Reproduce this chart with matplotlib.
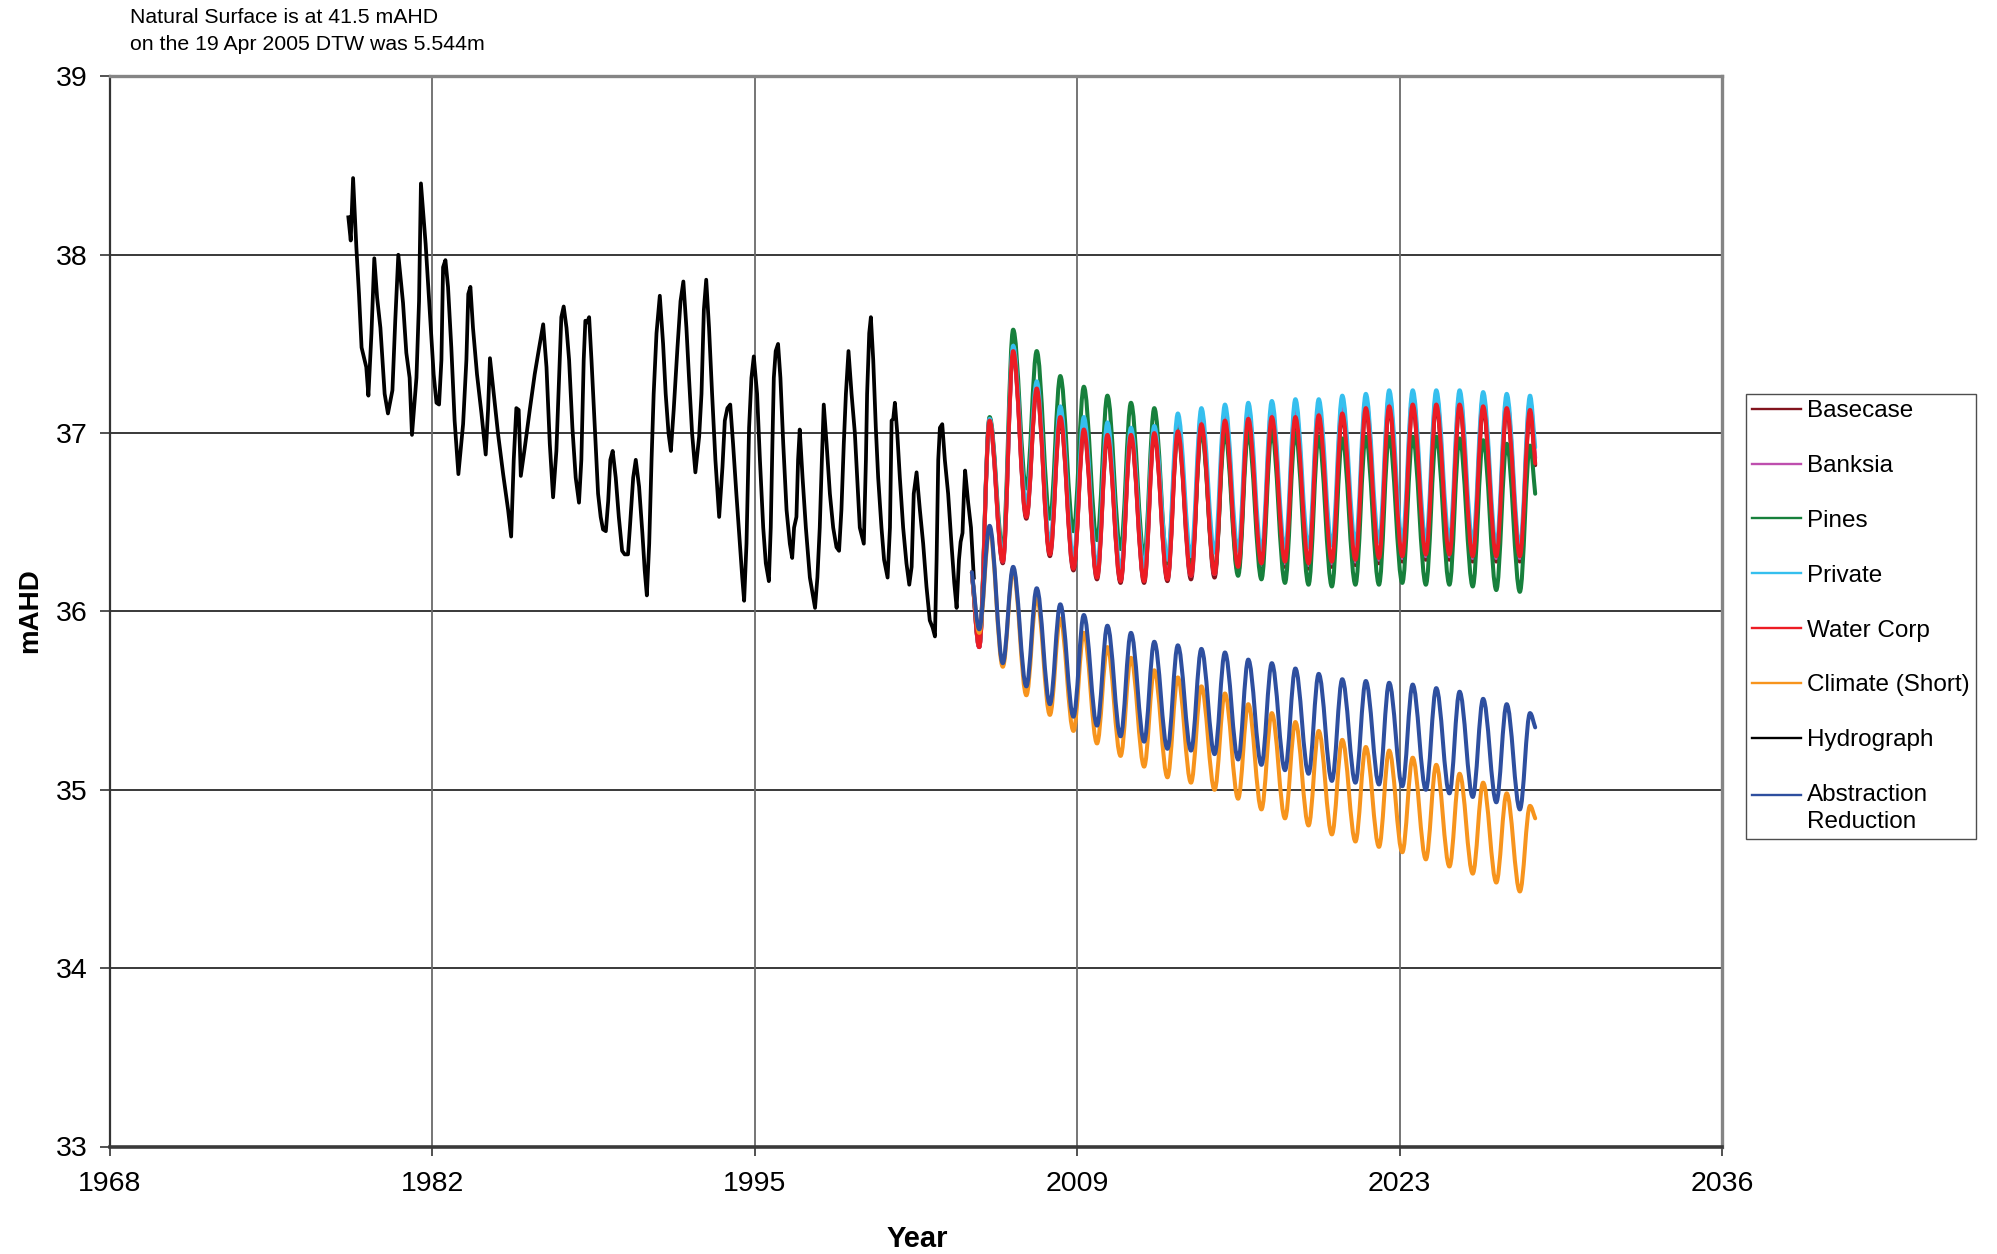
import numpy as np
import matplotlib
matplotlib.use('Agg')
import matplotlib.pyplot as plt
from matplotlib.path import Path
from matplotlib.patches import PathPatch
from matplotlib.lines import Line2D
from matplotlib.legend_handler import HandlerLine2D

plt.rcParams['font.family'] = ['Liberation Sans', 'DejaVu Sans']

# ---------------- data ----------------
hydro_years = [1978.44, 1978.54, 1978.64, 1978.78, 1978.89, 1979.00, 1979.20, 1979.29, 1979.42, 1979.54,
               1979.66, 1979.80, 1979.98, 1980.12, 1980.31, 1980.43, 1980.56, 1980.76, 1980.90, 1981.04,
               1981.14, 1981.33, 1981.44, 1981.52, 1981.72, 1981.89, 1982.06, 1982.18, 1982.29, 1982.39,
               1982.46, 1982.56, 1982.67, 1982.81, 1982.95, 1983.11, 1983.31, 1983.45, 1983.53, 1983.62,
               1983.73, 1983.90, 1984.09, 1984.27, 1984.37, 1984.45, 1984.58, 1984.79, 1985.01, 1985.22,
               1985.35, 1985.46, 1985.57, 1985.67, 1985.76, 1985.93, 1986.14, 1986.35, 1986.54, 1986.71,
               1986.85, 1986.99, 1987.13, 1987.27, 1987.41, 1987.48, 1987.58, 1987.70, 1987.81, 1987.95,
               1988.09, 1988.23, 1988.33, 1988.43, 1988.50, 1988.57, 1988.66, 1988.76, 1988.90, 1989.04,
               1989.15, 1989.25, 1989.37, 1989.47, 1989.56, 1989.66, 1989.79, 1989.92, 1990.06, 1990.17,
               1990.31, 1990.39, 1990.53, 1990.64, 1990.78, 1990.92, 1991.02, 1991.11, 1991.21, 1991.31,
               1991.40, 1991.52, 1991.66, 1991.80, 1991.91, 1992.03, 1992.13, 1992.25, 1992.41, 1992.54,
               1992.66, 1992.79, 1992.90, 1993.03, 1993.17, 1993.33, 1993.43, 1993.53, 1993.63, 1993.75,
               1993.88, 1994.02, 1994.18, 1994.32, 1994.42, 1994.53, 1994.65, 1994.77, 1994.91, 1995.06,
               1995.16, 1995.24, 1995.34, 1995.45, 1995.55, 1995.65, 1995.79, 1995.91, 1996.05, 1996.16,
               1996.29, 1996.37, 1996.44, 1996.50, 1996.58, 1996.68, 1996.78, 1996.90, 1997.04, 1997.18,
               1997.28, 1997.36, 1997.46, 1997.53, 1997.60, 1997.72, 1997.86, 1998.03, 1998.17, 1998.25,
               1998.35, 1998.45, 1998.54, 1998.62, 1998.74, 1998.88, 1999.02, 1999.16, 1999.27, 1999.37,
               1999.47, 1999.56, 1999.67, 1999.80, 1999.94, 2000.04, 2000.15, 2000.32, 2000.41, 2000.46,
               2000.55, 2000.62, 2000.72, 2000.83, 2000.93, 2001.07, 2001.18, 2001.33, 2001.43, 2001.50,
               2001.57, 2001.64, 2001.74, 2001.85, 2001.99, 2002.13, 2002.25, 2002.35, 2002.44, 2002.56,
               2002.70, 2002.84, 2002.98, 2003.12, 2003.24, 2003.34, 2003.41, 2003.48, 2003.55, 2003.65,
               2003.76, 2003.90, 2004.04, 2004.16, 2004.26, 2004.36, 2004.43, 2004.51, 2004.57, 2004.62,
               2004.75, 2004.87, 2004.99]
hydro_levels = [38.21, 38.08, 38.43, 38.04, 37.78, 37.48, 37.37, 37.21, 37.56, 37.98,
                37.76, 37.59, 37.22, 37.11, 37.24, 37.63, 38.00, 37.73, 37.45, 37.31,
                36.99, 37.31, 37.74, 38.40, 38.06, 37.69, 37.33, 37.17, 37.16, 37.41,
                37.93, 37.97, 37.82, 37.48, 37.07, 36.77, 37.05, 37.41, 37.78, 37.82,
                37.59, 37.33, 37.11, 36.88, 37.13, 37.42, 37.26, 37.00, 36.77, 36.57,
                36.42, 36.85, 37.14, 37.13, 36.76, 36.92, 37.13, 37.33, 37.48, 37.61,
                37.37, 36.94, 36.64, 36.90, 37.40, 37.65, 37.71, 37.59, 37.41, 37.03,
                36.75, 36.61, 36.85, 37.41, 37.63, 37.62, 37.65, 37.41, 37.03, 36.66,
                36.53, 36.46, 36.45, 36.62, 36.85, 36.90, 36.75, 36.53, 36.34, 36.32,
                36.32, 36.47, 36.75, 36.85, 36.70, 36.44, 36.23, 36.09, 36.38, 36.85,
                37.22, 37.56, 37.77, 37.50, 37.22, 37.00, 36.90, 37.13, 37.48, 37.74,
                37.85, 37.59, 37.31, 37.00, 36.78, 36.98, 37.22, 37.69, 37.86, 37.59,
                37.22, 36.85, 36.53, 36.81, 37.07, 37.14, 37.16, 36.94, 36.66, 36.38,
                36.19, 36.06, 36.38, 37.03, 37.31, 37.43, 37.22, 36.85, 36.47, 36.27,
                36.17, 36.47, 36.94, 37.31, 37.46, 37.50, 37.31, 36.94, 36.57, 36.38,
                36.30, 36.47, 36.53, 36.85, 37.02, 36.75, 36.47, 36.19, 36.08, 36.02,
                36.19, 36.47, 36.85, 37.16, 36.94, 36.66, 36.47, 36.36, 36.34, 36.57,
                36.94, 37.22, 37.46, 37.22, 37.00, 36.75, 36.47, 36.38, 36.85, 37.22,
                37.56, 37.65, 37.41, 37.03, 36.75, 36.47, 36.29, 36.19, 36.47, 37.07,
                37.08, 37.17, 37.00, 36.75, 36.47, 36.27, 36.15, 36.25, 36.66, 36.78,
                36.57, 36.38, 36.14, 35.95, 35.91, 35.86, 36.29, 36.85, 37.03, 37.05,
                36.85, 36.66, 36.38, 36.16, 36.02, 36.29, 36.39, 36.44, 36.66, 36.79,
                36.61, 36.47, 36.19]

# model scenario timing (years)
model_start_year = 2004.91
model_first_trough_year = 2005.22
model_end_year = 2028.82
peak_years = [2005.66, 2006.66, 2007.66, 2008.66, 2009.66, 2010.66, 2011.66, 2012.65,
              2013.65, 2014.65, 2015.65, 2016.64, 2017.64, 2018.64, 2019.63, 2020.63,
              2021.63, 2022.62, 2023.62, 2024.62, 2025.61, 2026.61, 2027.61, 2028.60]
trough_years = [2006.22, 2007.22, 2008.22, 2009.22, 2010.22, 2011.22, 2012.22, 2013.21,
                2014.21, 2015.21, 2016.21, 2017.20, 2018.20, 2019.20, 2020.19, 2021.19,
                2022.19, 2023.18, 2024.18, 2025.18, 2026.17, 2027.17, 2028.17]

series_names = ['Basecase', 'Banksia', 'Pines', 'Private', 'Water Corp',
                'Climate (Short)', 'Hydrograph', 'Abstraction\nReduction']

model_start_level = 36.22
# first trough / final value, per scenario
first_trough_basecase, end_basecase = 35.80, 36.82
first_trough_banksia, end_banksia = 35.80, 36.86
first_trough_pines, end_pines = 35.82, 36.66
first_trough_private, end_private = 35.81, 36.92
first_trough_watercorp, end_watercorp = 35.80, 36.83
first_trough_climate, end_climate = 35.88, 34.84
first_trough_abstraction, end_abstraction = 35.90, 35.35

basecase_peaks = [37.06, 37.45, 37.24, 37.08, 37.01, 36.98, 36.98, 36.99, 37.00, 37.04, 37.06, 37.07,
                  37.08, 37.08, 37.09, 37.10, 37.13, 37.14, 37.15, 37.15, 37.15, 37.14, 37.13, 37.12]
basecase_troughs = [36.27, 36.52, 36.31, 36.23, 36.18, 36.16, 36.16, 36.17, 36.18, 36.19, 36.22, 36.24,
                    36.25, 36.24, 36.25, 36.26, 36.27, 36.28, 36.29, 36.29, 36.28, 36.28, 36.28]
banksia_peaks = [37.08, 37.47, 37.27, 37.12, 37.05, 37.02, 37.01, 37.02, 37.06, 37.10, 37.12, 37.13,
                 37.14, 37.15, 37.15, 37.17, 37.19, 37.20, 37.21, 37.21, 37.21, 37.20, 37.19, 37.18]
banksia_troughs = [36.28, 36.54, 36.33, 36.25, 36.20, 36.18, 36.18, 36.19, 36.20, 36.21, 36.24, 36.26,
                   36.27, 36.26, 36.27, 36.28, 36.29, 36.30, 36.31, 36.31, 36.30, 36.30, 36.30]
pines_peaks = [37.09, 37.58, 37.46, 37.32, 37.26, 37.21, 37.17, 37.14, 37.02, 37.01, 37.00, 37.00,
               37.01, 37.00, 36.98, 36.97, 36.98, 36.98, 36.98, 36.98, 36.97, 36.96, 36.94, 36.93]
pines_troughs = [36.35, 36.69, 36.52, 36.45, 36.40, 36.35, 36.31, 36.27, 36.24, 36.22, 36.20, 36.18,
                 36.16, 36.15, 36.14, 36.15, 36.15, 36.16, 36.15, 36.15, 36.14, 36.12, 36.11]
private_peaks = [37.08, 37.49, 37.29, 37.15, 37.09, 37.06, 37.03, 37.04, 37.11, 37.14, 37.16, 37.17,
                 37.18, 37.19, 37.19, 37.21, 37.22, 37.24, 37.24, 37.24, 37.24, 37.23, 37.22, 37.21]
private_troughs = [36.31, 36.60, 36.38, 36.30, 36.25, 36.23, 36.25, 36.29, 36.31, 36.33, 36.34, 36.34,
                   36.35, 36.36, 36.37, 36.38, 36.39, 36.40, 36.40, 36.40, 36.39, 36.37, 36.36]
watercorp_peaks = [37.07, 37.46, 37.25, 37.09, 37.02, 36.99, 36.99, 37.00, 37.01, 37.05, 37.07, 37.08,
                   37.09, 37.09, 37.10, 37.11, 37.14, 37.15, 37.16, 37.16, 37.16, 37.15, 37.14, 37.13]
watercorp_troughs = [36.28, 36.53, 36.32, 36.24, 36.19, 36.17, 36.17, 36.18, 36.20, 36.21, 36.25, 36.27,
                     36.28, 36.27, 36.28, 36.29, 36.30, 36.31, 36.32, 36.32, 36.31, 36.31, 36.31]
climate_peaks = [36.46, 36.23, 36.08, 35.96, 35.88, 35.80, 35.74, 35.67, 35.63, 35.58, 35.54, 35.48,
                 35.43, 35.38, 35.33, 35.28, 35.24, 35.22, 35.18, 35.14, 35.09, 35.04, 34.98, 34.91]
climate_troughs = [35.69, 35.53, 35.42, 35.33, 35.26, 35.19, 35.13, 35.07, 35.04, 35.00, 34.95, 34.89,
                   34.84, 34.80, 34.75, 34.71, 34.68, 34.65, 34.61, 34.57, 34.53, 34.48, 34.43]
abstraction_peaks = [36.48, 36.25, 36.13, 36.04, 35.98, 35.92, 35.88, 35.83, 35.81, 35.79, 35.77, 35.73,
                     35.71, 35.68, 35.65, 35.62, 35.61, 35.60, 35.59, 35.57, 35.55, 35.51, 35.48, 35.43]
abstraction_troughs = [35.71, 35.58, 35.48, 35.41, 35.36, 35.30, 35.27, 35.23, 35.22, 35.20, 35.17, 35.14,
                       35.11, 35.09, 35.05, 35.04, 35.03, 35.02, 35.00, 34.98, 34.96, 34.93, 34.89]

y_ticks = [33, 34, 35, 36, 37, 38, 39]
x_tick_years = [1968.30, 1981.99, 1995.68, 2009.37, 2023.06, 2036.75]
x_tick_labels = ['1968', '1982', '1995', '2009', '2023', '2036']

note_lines = ['Natural Surface is at 41.5 mAHD', 'on the 19 Apr 2005 DTW was 5.544m']

# ---------------- styles ----------------
colors = {
    'Basecase': '#82141E',
    'Banksia': '#BE4FAE',
    'Pines': '#17803C',
    'Private': '#35BFEE',
    'Water Corp': '#ED1C24',
    'Climate (Short)': '#F7941D',
    'Hydrograph': '#000000',
    'Abstraction\nReduction': '#2E4F9F',
}

W, H = 1997, 1254
fig = plt.figure(figsize=(W / 100, H / 100), dpi=100)
ax_l, ax_r, ax_t, ax_b = 109.5, 1722.0, 76.4, 1146.5
ax = fig.add_axes([ax_l / W, 1 - ax_b / H, (ax_r - ax_l) / W, (ax_b - ax_t) / H])


def scenario_sequence(first_trough, peaks, troughs, end):
    ts = [model_start_year, model_first_trough_year]
    vs = [model_start_level, first_trough]
    for i, p in enumerate(peaks):
        ts.append(peak_years[i]); vs.append(p)
        if i < len(troughs):
            ts.append(trough_years[i]); vs.append(troughs[i])
    ts.append(model_end_year); vs.append(end)
    return ts, vs


def wave_path(ts, vs, k=0.36):
    verts = [(ts[0], vs[0])]
    codes = [Path.MOVETO]
    n = len(ts)
    for i in range(1, n):
        t0, v0, t1, v1 = ts[i - 1], vs[i - 1], ts[i], vs[i]
        dt = t1 - t0
        if i == 1:
            c1 = (t0 + k * dt, v0 + k * (v1 - v0))
        else:
            c1 = (t0 + k * dt, v0)
        if i == n - 1:
            c2 = (t1 - k * dt, v1 - k * (v1 - v0))
        else:
            c2 = (t1 - k * dt, v1)
        verts += [c1, c2, (t1, v1)]
        codes += [Path.CURVE4] * 3
    return Path(verts, codes)


scenarios = [
    ('Basecase', first_trough_basecase, basecase_peaks, basecase_troughs, end_basecase),
    ('Banksia', first_trough_banksia, banksia_peaks, banksia_troughs, end_banksia),
    ('Pines', first_trough_pines, pines_peaks, pines_troughs, end_pines),
    ('Private', first_trough_private, private_peaks, private_troughs, end_private),
    ('Water Corp', first_trough_watercorp, watercorp_peaks, watercorp_troughs, end_watercorp),
    ('Climate (Short)', first_trough_climate, climate_peaks, climate_troughs, end_climate),
]

z = 3
for name, ft, pk, tr, en in scenarios:
    ts, vs = scenario_sequence(ft, pk, tr, en)
    ax.add_patch(PathPatch(wave_path(ts, vs), fill=False, edgecolor=colors[name],
                           lw=2.9, capstyle='round', joinstyle='round', zorder=z))
    z += 0.1

ax.plot(hydro_years, hydro_levels, color=colors['Hydrograph'], lw=2.7,
        solid_joinstyle='round', zorder=z)
z += 0.1
ts, vs = scenario_sequence(first_trough_abstraction, abstraction_peaks, abstraction_troughs, end_abstraction)
ax.add_patch(PathPatch(wave_path(ts, vs), fill=False, edgecolor=colors['Abstraction\nReduction'],
                       lw=2.9, capstyle='round', joinstyle='round', zorder=z))

ax.set_xlim(x_tick_years[0], x_tick_years[-1])
ax.set_ylim(y_ticks[0], y_ticks[-1])
ax.set_xticks(x_tick_years)
ax.set_xticklabels(x_tick_labels)
ax.set_yticks(y_ticks)
ax.set_yticklabels([str(v) for v in y_ticks])

# gridlines
ax.set_axisbelow(True)
for yv in y_ticks[1:-1]:
    ax.axhline(yv, color='#2a2a2a', lw=1.3, zorder=1)
for xv in x_tick_years[1:-1]:
    ax.axvline(xv, color='#6a6a6a', lw=1.3, zorder=1)

for side in ['top', 'right']:
    ax.spines[side].set_color('#858585')
    ax.spines[side].set_linewidth(2.4)
ax.spines['left'].set_color('#333333')
ax.spines['left'].set_linewidth(1.6)
ax.spines['bottom'].set_color('#3a3a3a')
ax.spines['bottom'].set_linewidth(2.6)

ax.tick_params(axis='x', direction='out', length=6.5, width=1.1, pad=11, labelsize=20.5,
               color='#222222')
ax.tick_params(axis='y', direction='out', length=7, width=1.1, pad=9, labelsize=20.5,
               color='#222222')

# labels
fig.text(30 / W, 1 - 611 / H, 'mAHD', rotation=90, ha='center', va='center',
         fontsize=20, fontweight='bold')
fig.text(917 / W, 1 - 1247 / H, 'Year', ha='center', va='baseline',
         fontsize=21, fontweight='bold')
fig.text(129.5 / W, 1 - 23 / H, note_lines[0], ha='left', va='baseline', fontsize=15.3)
fig.text(129.5 / W, 1 - 50 / H, note_lines[1], ha='left', va='baseline', fontsize=15.3)


# legend
class FirstLineHandler(HandlerLine2D):
    """Place the handle level with the first line of a two-line label."""
    def __init__(self, shift, **kw):
        super().__init__(**kw)
        self.shift = shift

    def create_artists(self, legend, orig_handle, xdescent, ydescent, width, height,
                       fontsize, trans):
        return super().create_artists(legend, orig_handle, xdescent, ydescent - self.shift,
                                      width, height, fontsize, trans)


handles = [Line2D([], [], color=colors[n], lw=1.7) for n in series_names]
leg = fig.legend(handles, series_names, loc='upper left',
                 bbox_to_anchor=(1745.7 / W, 1 - 394 / H), bbox_transform=fig.transFigure,
                 borderaxespad=0, frameon=True, fancybox=False, shadow=False,
                 fontsize=17.5, handlelength=2.03, handletextpad=0.23,
                 labelspacing=1.35, borderpad=0.26,
                 handler_map={handles[-1]: FirstLineHandler(20)})
leg.get_frame().set_edgecolor('#222222')
leg.get_frame().set_linewidth(1.0)
for t in leg.get_texts():
    t.set_linespacing(1.28)

fig.savefig('out.png', dpi=100)
